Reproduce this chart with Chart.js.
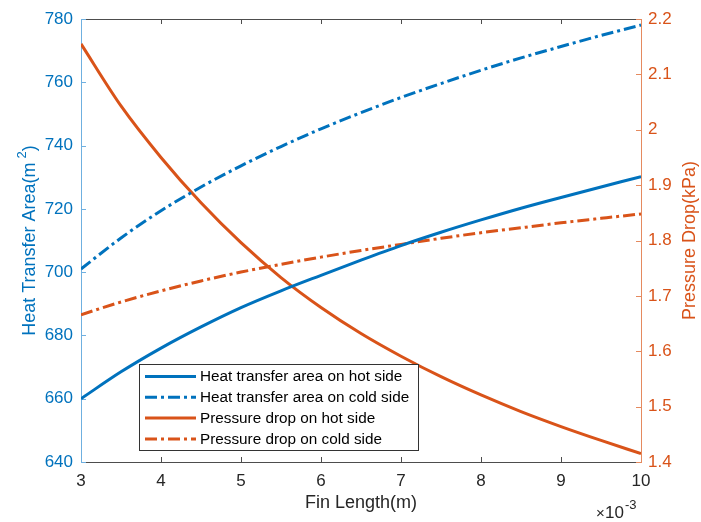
<!DOCTYPE html>
<html>
<head>
<meta charset="utf-8">
<script src="https://cdn.jsdelivr.net/npm/chart.js@4.4.1/dist/chart.umd.min.js"></script>
<style>
  html, body { margin: 0; padding: 0; background: #fff; }
  #wrap { width: 701px; height: 522px; }
</style>
</head>
<body>
<div id="wrap"><canvas id="c" width="701" height="522"></canvas></div>
<script>
// fin length (x 1e-3 m)
const finLength = [3, 3.5, 4, 4.5, 5, 5.5, 6, 6.5, 7, 7.5, 8, 8.5, 9, 9.5, 10];
// heat transfer area (m^2)
const areaHot  = [660, 668.5, 676, 682.7, 688.8, 694.1, 699.0, 703.8, 708.4, 712.6, 716.5, 720.2, 723.6, 726.9, 730.2];
const areaCold = [701, 710.8, 719.4, 726.9, 733.6, 739.7, 745.3, 750.4, 755.2, 759.6, 763.8, 767.7, 771.3, 774.8, 778.1];
// pressure drop (kPa)
const dpHot  = [2.155, 2.043, 1.950, 1.868, 1.796, 1.733, 1.679, 1.632, 1.591, 1.554, 1.521, 1.491, 1.464, 1.439, 1.415];
const dpCold = [1.666, 1.689, 1.709, 1.727, 1.743, 1.757, 1.770, 1.782, 1.793, 1.804, 1.814, 1.823, 1.832, 1.840, 1.848];

const xTicks = [3, 4, 5, 6, 7, 8, 9, 10];
const leftTicks = [640, 660, 680, 700, 720, 740, 760, 780];
const rightTicks = [1.4, 1.5, 1.6, 1.7, 1.8, 1.9, 2.0, 2.1, 2.2];

const BLUE = '#0072BD';
const ORANGE = '#D95319';
const FONT = "'Liberation Sans', Arial, sans-serif";
const DASHDOT = [12, 4, 3, 4];

const pts = (ys) => finLength.map((x, i) => ({ x: x, y: ys[i] }));

const mkSet = (label, ys, color, axis, dash) => ({
  label: label,
  data: pts(ys),
  yAxisID: axis,
  borderColor: color,
  backgroundColor: color,
  borderWidth: 3,
  borderDash: dash,
  pointRadius: 0,
  cubicInterpolationMode: 'monotone',
  fill: false
});

// axes boxes, inward ticks, titles, legend
const decor = {
  id: 'decor',
  beforeDatasetsDraw(chart) {
    const ctx = chart.ctx;
    const a = chart.chartArea;
    const sx = chart.scales.x, sl = chart.scales.yL, sr = chart.scales.yR;
    const tl = 5;
    ctx.save();
    ctx.lineWidth = 1;
    // top / bottom
    ctx.strokeStyle = '#4d4d4d';
    ctx.beginPath();
    ctx.moveTo(a.left, a.bottom + 0.5); ctx.lineTo(a.right, a.bottom + 0.5);
    ctx.moveTo(a.left, a.top + 0.5); ctx.lineTo(a.right, a.top + 0.5);
    xTicks.forEach(v => {
      const px = Math.round(sx.getPixelForValue(v)) + 0.5;
      ctx.moveTo(px, a.bottom); ctx.lineTo(px, a.bottom - tl);
      ctx.moveTo(px, a.top); ctx.lineTo(px, a.top + tl);
    });
    ctx.stroke();
    // left
    ctx.strokeStyle = '#6fb0e0';
    ctx.beginPath();
    ctx.moveTo(a.left + 0.5, a.top); ctx.lineTo(a.left + 0.5, a.bottom + 1);
    leftTicks.forEach(v => {
      const py = Math.round(sl.getPixelForValue(v)) + 0.5;
      ctx.moveTo(a.left, py); ctx.lineTo(a.left + tl, py);
    });
    ctx.stroke();
    // right
    ctx.strokeStyle = '#e58a5f';
    ctx.beginPath();
    ctx.moveTo(a.right + 0.5, a.top); ctx.lineTo(a.right + 0.5, a.bottom + 1);
    rightTicks.forEach(v => {
      const py = Math.round(sr.getPixelForValue(v)) + 0.5;
      ctx.moveTo(a.right, py); ctx.lineTo(a.right - tl, py);
    });
    ctx.stroke();
    ctx.restore();
  },
  afterDraw(chart) {
    const ctx = chart.ctx;
    const a = chart.chartArea;
    const midY = (a.top + a.bottom) / 2;
    ctx.save();
    ctx.textBaseline = 'middle';

    // left title with superscript
    ctx.save();
    ctx.translate(30, midY);
    ctx.rotate(-Math.PI / 2);
    ctx.fillStyle = BLUE;
    const t1 = 'Heat Transfer Area(m', t3 = ')';
    ctx.font = '18px ' + FONT;
    const w1 = ctx.measureText(t1).width;
    const w3 = ctx.measureText(t3).width;
    ctx.font = '13px ' + FONT;
    const w2 = ctx.measureText('2').width + 4;
    const x0 = -(w1 + w2 + w3) / 2;
    ctx.textAlign = 'left';
    ctx.font = '18px ' + FONT;
    ctx.fillText(t1, x0, 0);
    ctx.font = '13px ' + FONT;
    ctx.fillText('2', x0 + w1 + 4, -8);
    ctx.font = '18px ' + FONT;
    ctx.fillText(t3, x0 + w1 + w2, 0);
    ctx.restore();

    // right title
    ctx.save();
    ctx.translate(690, midY);
    ctx.rotate(-Math.PI / 2);
    ctx.fillStyle = ORANGE;
    ctx.font = '18px ' + FONT;
    ctx.textAlign = 'center';
    ctx.fillText('Pressure Drop(kPa)', 0, 0);
    ctx.restore();

    // x title
    ctx.fillStyle = '#262626';
    ctx.font = '18px ' + FONT;
    ctx.textAlign = 'center';
    ctx.fillText('Fin Length(m)', (a.left + a.right) / 2, 503);

    // exponent
    ctx.textAlign = 'left';
    ctx.font = '15px ' + FONT;
    ctx.fillText('\u00d7', 596, 514);
    ctx.font = '17px ' + FONT;
    ctx.fillText('10', 605, 513);
    ctx.font = '13px ' + FONT;
    ctx.fillText('-3', 625, 505);

    // legend
    const lx = 139.5, ly = 364.5, lw = 279, lh = 86;
    ctx.fillStyle = '#fff';
    ctx.fillRect(lx, ly, lw, lh);
    ctx.strokeStyle = '#333';
    ctx.lineWidth = 1;
    ctx.strokeRect(lx, ly, lw, lh);
    ctx.font = '15.3px ' + FONT;
    chart.data.datasets.forEach((ds, i) => {
      const y = 376.5 + i * 20.8;
      ctx.strokeStyle = ds.borderColor;
      ctx.lineWidth = 3;
      ctx.setLineDash(ds.borderDash || []);
      ctx.beginPath();
      ctx.moveTo(145, y); ctx.lineTo(196, y);
      ctx.stroke();
      ctx.setLineDash([]);
      ctx.fillStyle = '#000';
      ctx.fillText(ds.label, 200, y + 0.5);
    });
    ctx.restore();
  }
};

new Chart(document.getElementById('c'), {
  type: 'line',
  data: {
    datasets: [
      mkSet('Heat transfer area on hot side', areaHot, BLUE, 'yL', []),
      mkSet('Heat transfer area on cold side', areaCold, BLUE, 'yL', DASHDOT),
      mkSet('Pressure drop on hot side', dpHot, ORANGE, 'yR', []),
      mkSet('Pressure drop on cold side', dpCold, ORANGE, 'yR', DASHDOT)
    ]
  },
  options: {
    responsive: false,
    animation: false,
    layout: { padding: { top: 19, left: 0, right: 0, bottom: 0 } },
    plugins: { legend: { display: false }, tooltip: { enabled: false } },
    scales: {
      x: {
        type: 'linear',
        min: 3, max: 10,
        afterBuildTicks: (s) => { s.ticks = xTicks.map(v => ({ value: v })); },
        ticks: { color: '#262626', font: { family: FONT, size: 17 }, padding: 9, maxRotation: 0 },
        grid: { display: false, drawTicks: false, tickLength: 0 },
        border: { display: false },
        afterFit: (s) => { s.height = 60; }
      },
      yL: {
        position: 'left',
        min: 640, max: 780,
        afterBuildTicks: (s) => { s.ticks = leftTicks.map(v => ({ value: v })); },
        ticks: { color: BLUE, font: { family: FONT, size: 17 }, padding: 8 },
        grid: { display: false, drawTicks: false, tickLength: 0 },
        border: { display: false },
        afterFit: (s) => { s.width = 81; }
      },
      yR: {
        position: 'right',
        min: 1.4, max: 2.2,
        afterBuildTicks: (s) => { s.ticks = rightTicks.map(v => ({ value: v })); },
        ticks: {
          color: ORANGE, font: { family: FONT, size: 17 }, padding: 7,
          callback: (v) => String(+v.toFixed(1))
        },
        grid: { display: false, drawTicks: false, tickLength: 0 },
        border: { display: false },
        afterFit: (s) => { s.width = 60; }
      }
    }
  },
  plugins: [decor]
});
</script>
</body>
</html>
